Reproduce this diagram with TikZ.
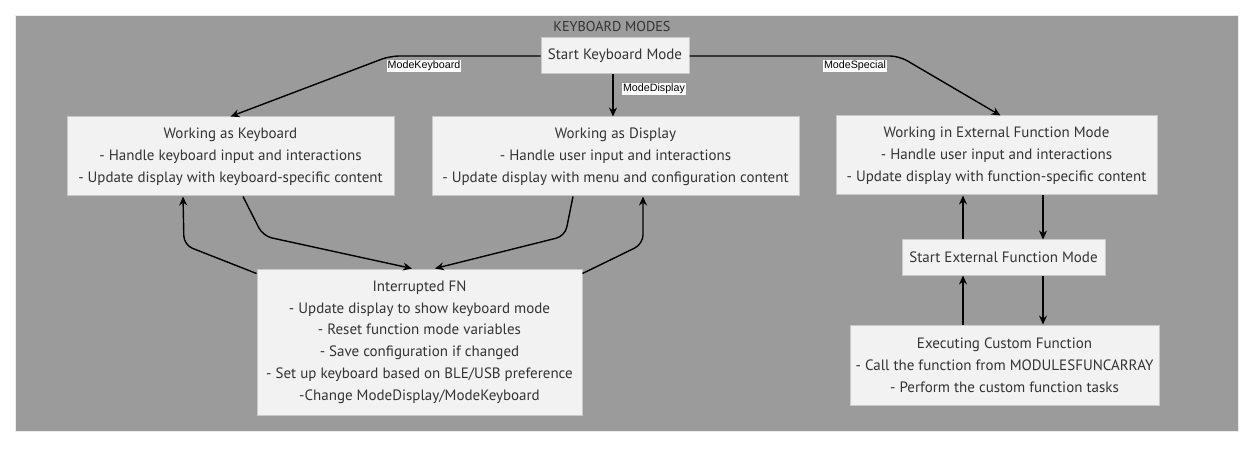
\documentclass[tikz,border=0pt]{standalone}
\usepackage{fontspec}
\setmainfont{PT Sans}
\newfontfamily\labelfont{Liberation Sans}
\usetikzlibrary{arrows.meta,calc}
\definecolor{bggray}{HTML}{9B9B9B}
\definecolor{boxfill}{HTML}{F2F2F2}
\definecolor{boxline}{HTML}{C8C8C8}
\definecolor{txt}{HTML}{333333}
\tikzset{
  box/.style={draw=boxline, line width=1pt, fill=boxfill, text=txt, align=center,
    inner sep=0pt, font=\fontsize{15}{21.8}\selectfont},
  conn/.style={line width=1.4pt, draw=black, -{Stealth[length=9pt,width=8pt]}, rounded corners=9pt},
  elabel/.style={fill=white, inner sep=0.6pt, text=black, font=\labelfont\fontsize{10.7}{12}\selectfont}
}
\begin{document}
\begin{tikzpicture}[x=1pt,y=-1pt]
\useasboundingbox (0,0) rectangle (1253,449);
\fill[white] (0,0) rectangle (1253,449);
\draw[fill=bggray, draw=white!85!gray, line width=1pt] (15.5,15.5) rectangle (1238,431.5);
\node[text=txt, font=\fontsize{14.2}{16}\selectfont] (title) at (612,26.5) {KEYBOARD MODES};

\node[box, minimum width=148, minimum height=36] (sk) at (615,56) {Start Keyboard Mode};
\node[box, minimum width=327, minimum height=79] (wk) at (230.5,156.5)
  {Working as Keyboard\\- Handle keyboard input and interactions\\- Update display with keyboard-specific content};
\node[box, minimum width=367, minimum height=79] (wd) at (615.5,156.5)
  {Working as Display\\- Handle user input and interactions\\- Update display with menu and configuration content};
\node[box, minimum width=321, minimum height=79] (wx) at (996.5,155.5)
  {Working in External Function Mode\\- Handle user input and interactions\\- Update display with function-specific content};
\node[box, minimum width=203, minimum height=35] (se) at (1003.5,257.5) {Start External Function Mode};
\node[box, minimum width=309, minimum height=80] (ex) at (1004.5,365)
  {Executing Custom Function\\- Call the function from MODULESFUNCARRAY\\- Perform the custom function tasks};
\node[box, minimum width=325, minimum height=146] (inf) at (419.5,342)
  {Interrupted FN\\- Update display to show keyboard mode\\- Reset function mode variables\\- Save configuration if changed\\- Set up keyboard based on BLE/USB preference\\-Change ModeDisplay/ModeKeyboard};

% top connectors
\draw[conn] (sk.west) -- (390,56) -- (wk.north);
\draw[conn] ([xshift=-2pt]sk.south) -- ([xshift=-2.5pt]wd.north);
\draw[conn] (sk.east) -- (899,56) -- ([xshift=4pt]wx.north);
\node[elabel] (lk) at (424,66) {ModeKeyboard};
\node[elabel] (ld) at (654,89) {ModeDisplay};
\node[elabel] (ls) at (855,66) {ModeSpecial};

% keyboard <-> interrupted
\draw[conn] ([xshift=12.5pt]wk.south) -- (263,236) -- ([xshift=-7.5pt]inf.north);
\draw[conn] ($(inf.north west)+(0,5)$) -- (184,245) -- ([xshift=-47.5pt]wk.south);
% display <-> interrupted
\draw[conn] ([xshift=-42.5pt]wd.south) -- (565,236) -- ([xshift=15.5pt]inf.north);
\draw[conn] ($(inf.north east)+(0,5)$) -- (643,244) -- ([xshift=27.5pt]wd.south);

% right column
\coordinate (a1) at ([xshift=46.5pt]wx.south);
\draw[conn] (a1) -- (a1 |- se.north);
\coordinate (a2) at ([xshift=-40.5pt]se.north);
\draw[conn] (a2) -- (a2 |- wx.south);
\coordinate (a3) at ([xshift=39.5pt]se.south);
\draw[conn] (a3) -- (a3 |- ex.north);
\coordinate (a4) at ([xshift=-41.5pt]ex.north);
\draw[conn] (a4) -- (a4 |- se.south);
\end{tikzpicture}
\end{document}
